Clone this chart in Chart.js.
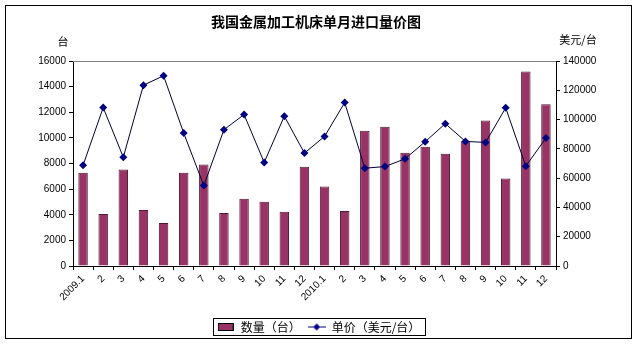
<!DOCTYPE html>
<html><head><meta charset="utf-8">
<script src="https://cdn.jsdelivr.net/npm/chart.js@4/dist/chart.umd.min.js"></script>
<style>html,body{margin:0;padding:0;background:#fff}#wrap{width:637px;height:344px;position:relative}</style>
</head><body><div id="wrap"><canvas id="c" width="637" height="344"></canvas></div>
<script>
const categories = ["2009.1","2","3","4","5","6","7","8","9","10","11","12","2010.1","2","3","4","5","6","7","8","9","10","11","12"];
const quantity = [7270,4050,7530,4370,3350,7270,7920,4130,5250,5020,4240,7740,6200,4290,10560,10870,8840,9310,8760,9730,11350,6820,15190,12630];
const unitPrice = [68800,108200,74300,123500,129900,90800,54900,93100,103400,70700,102300,77100,88500,111600,66800,67900,73200,84900,97200,85100,84400,108000,68200,87400];
const leftTicks = [0,2000,4000,6000,8000,10000,12000,14000,16000];
const rightTicks = [0,20000,40000,60000,80000,100000,120000,140000];
const titleText = "我国金属加工机床单月进口量价图";
const leftUnit = "台";
const rightUnit = "美元/台";
const seriesNames = ["数量（台）","单价（美元/台）"];

const BAR = '#993366', NAVY = '#000080';
const CJK = '"Noto Sans CJK SC", "Liberation Sans", sans-serif';
const NUM = '"Liberation Sans", Arial, sans-serif';

function swatchBar(){const c=document.createElement('canvas');c.width=16;c.height=8;const x=c.getContext('2d');x.fillStyle=BAR;x.fillRect(0,0,16,8);x.strokeStyle='#000';x.lineWidth=1;x.strokeRect(0.5,0.5,15,7);return c;}
function swatchLine(){const c=document.createElement('canvas');c.width=18;c.height=9;const x=c.getContext('2d');x.strokeStyle=NAVY;x.lineWidth=1;x.beginPath();x.moveTo(0,4.5);x.lineTo(18,4.5);x.stroke();x.fillStyle=NAVY;x.beginPath();x.moveTo(9,1);x.lineTo(12.5,4.5);x.lineTo(9,8);x.lineTo(5.5,4.5);x.closePath();x.fill();return c;}
const sw=[swatchBar(),swatchLine()];

const deco = {
  id:'deco',
  beforeDraw(chart){
    const ctx=chart.ctx; ctx.save(); ctx.fillStyle='#fff'; ctx.fillRect(0,0,chart.width,chart.height); ctx.restore();
  },
  afterDraw(chart){
    const ctx=chart.ctx, a=chart.chartArea;
    ctx.save();
    ctx.strokeStyle='#000'; ctx.lineWidth=1; ctx.strokeRect(5.5,5.5,626,333);
    ctx.strokeStyle='#808080'; ctx.beginPath(); ctx.moveTo(a.left,Math.round(a.top)+0.5); ctx.lineTo(a.right,Math.round(a.top)+0.5); ctx.stroke();
    ctx.fillStyle='#000'; ctx.textAlign='center'; ctx.textBaseline='middle';
    ctx.font='bold 14px '+CJK; ctx.fillText(titleText, 316, 22);
    ctx.font='11px '+CJK;
    ctx.fillText(leftUnit, 63, 42);
    ctx.fillText(rightUnit, 578, 40);
    const lg=chart.legend;
    if(lg && lg.legendHitBoxes && lg.legendHitBoxes.length){
      let l=1e9,r=-1e9,t=1e9,b=-1e9;
      lg.legendHitBoxes.forEach(h=>{l=Math.min(l,h.left);r=Math.max(r,h.left+h.width);t=Math.min(t,h.top);b=Math.max(b,h.top+h.height);});
      ctx.strokeStyle='#000'; ctx.strokeRect(Math.round(l-4)+0.5,Math.round(t-3)+0.5,Math.round(r-l+8),Math.round(b-t+5));
    }
    ctx.restore();
  }
};

const plain = v => String(v);

new Chart(document.getElementById('c'),{
  data:{labels:categories,datasets:[
    {type:'line',label:seriesNames[1],data:unitPrice,yAxisID:'y1',borderColor:'#000033',borderWidth:1,pointStyle:'rectRot',pointRadius:4,pointBackgroundColor:NAVY,pointBorderColor:NAVY,pointBorderWidth:0,tension:0,order:0},
    {type:'bar',label:seriesNames[0],data:quantity,yAxisID:'y',backgroundColor:BAR,borderColor:'#4d1a33',borderWidth:1,barPercentage:1,categoryPercentage:0.47,order:1}
  ]},
  options:{
    responsive:false,animation:false,
    layout:{padding:{left:8,right:8,top:61,bottom:1}},
    plugins:{
      title:{display:false},tooltip:{enabled:false},
      legend:{position:'bottom',labels:{
        usePointStyle:true,pointStyleWidth:18,boxHeight:9,padding:7,color:'#000',font:{family:CJK,size:12},
        generateLabels(chart){return [
          {text:seriesNames[0],pointStyle:sw[0],datasetIndex:1,fontColor:'#000',lineWidth:0,hidden:false},
          {text:seriesNames[1],pointStyle:sw[1],datasetIndex:0,fontColor:'#000',lineWidth:0,hidden:false}
        ];}
      }}
    },
    scales:{
      x:{offset:true,grid:{display:true,drawOnChartArea:false,drawTicks:true,tickLength:4,color:'#000',offset:true},border:{color:'#000'},
        ticks:{autoSkip:false,minRotation:45,maxRotation:45,padding:3,color:'#000',font:{family:NUM,size:10}},
        afterFit(s){s.height=48;}},
      y:{position:'left',min:0,max:16000,afterBuildTicks(s){s.ticks=leftTicks.map(v=>({value:v}));},
        grid:{drawOnChartArea:false,drawTicks:true,tickLength:4,color:'#000'},border:{color:'#000'},
        ticks:{padding:3,color:'#000',font:{family:NUM,size:10},callback:plain},afterFit(s){s.width=65;}},
      y1:{position:'right',min:0,max:140000,afterBuildTicks(s){s.ticks=rightTicks.map(v=>({value:v}));},
        grid:{drawOnChartArea:false,drawTicks:true,tickLength:4,color:'#000'},border:{color:'#000'},
        ticks:{padding:3,color:'#000',font:{family:NUM,size:10},callback:plain},afterFit(s){s.width=73;}}
    }
  },
  plugins:[deco]
});
</script></body></html>
